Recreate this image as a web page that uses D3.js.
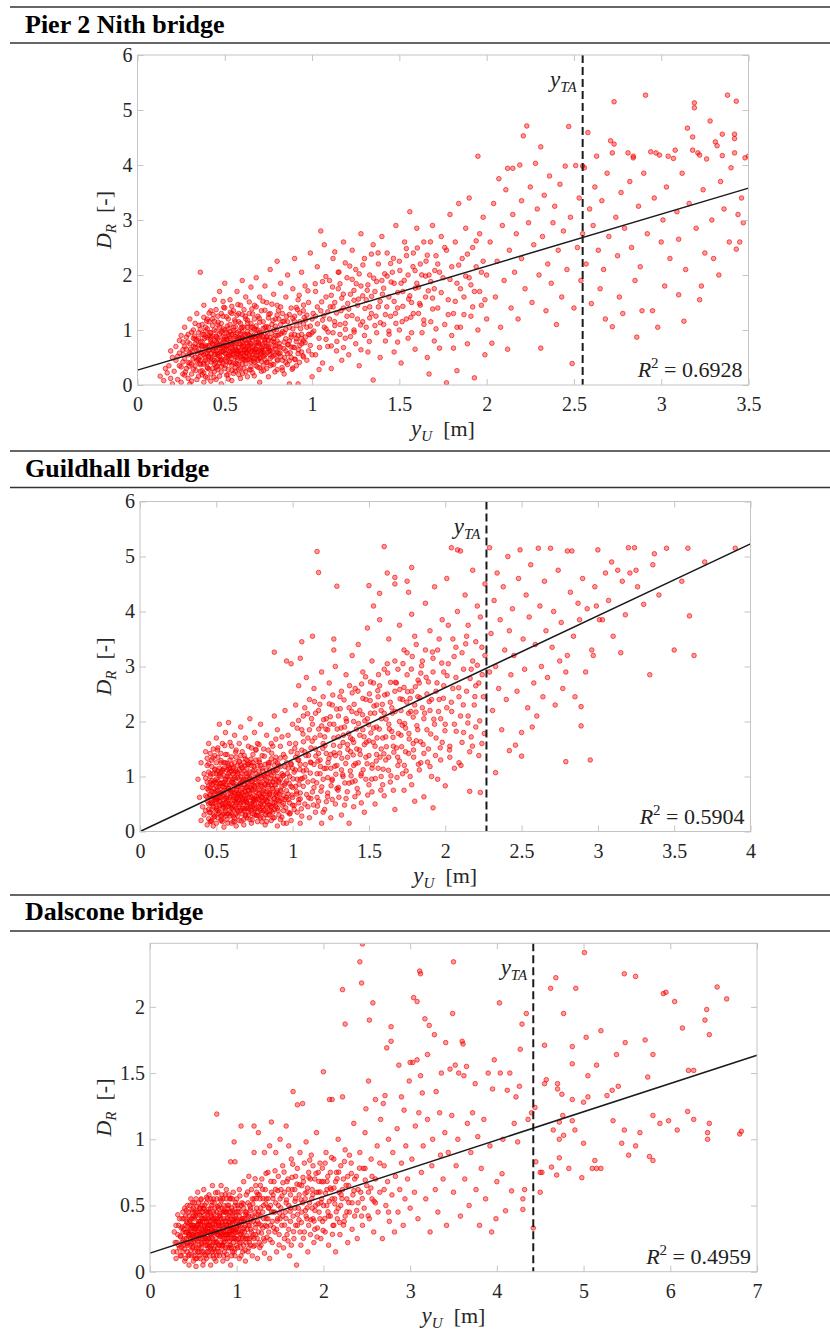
<!DOCTYPE html>
<html>
<head>
<meta charset="utf-8">
<script src="https://cdn.jsdelivr.net/npm/d3@7"></script>
<style>
  body { margin: 0; background: #fff; }
</style>
</head>
<body>
<svg id="fig" width="830" height="1333"></svg>
<script>
// ---- Pier 2 Nith bridge: [yU (m), DR (-)] ----
const nithPoints = [
  [.13,.16],[.15,.08],[.17,.22],[.18,.35],[.19,.12],[.2,.5],[.16,.3],[.2,.02],[.19,.62],
  [.21,.25],[.22,.45],[.22,.7],[.23,.1],[.24,.58],[.24,.35],[.25,.9],[.25,.05],[.26,.2],[.26,.78],[.27,.48],[.27,1.05],[.28,.3],[.28,.65],[.29,.12],[.29,.92],[.3,.4],[.3,.75],[.3,1.2],[.3,.02],
  [.31,.55],[.31,.2],[.32,.85],[.32,1.0],[.33,.35],[.33,.68],[.34,1.3],[.34,.1],[.35,.48],[.35,.95],[.36,2.05],[.36,.25],[.36,.78],[.37,1.1],[.37,.6],[.38,.4],[.38,1.45],[.38,.05],[.39,.88],[.39,.15],[.4,.7],[.4,1.2],[.4,.32],[.4,1.02],
  [.41,.52],[.41,.9],[.42,.2],[.42,1.35],[.43,.65],[.43,1.08],[.44,.38],[.44,.8],[.44,1.55],[.45,.1],[.45,.98],[.46,.55],[.46,1.25],[.46,.28],[.47,.72],[.47,1.7],[.48,.45],[.48,1.12],[.48,.02],[.49,.88],[.49,.6],[.5,1.4],[.5,.3],[.5,1.0],[.5,.78],[.5,1.85],
  [.51,.18],[.51,.65],[.52,1.2],[.52,.92],[.53,.42],[.53,1.55],[.54,.08],[.54,.75],[.55,1.05],[.55,.55],[.55,1.35],[.56,.25],[.56,.88],[.57,1.7],[.57,.62],[.58,1.15],[.58,.38],[.58,.98],[.59,1.45],[.59,.12],[.6,.7],[.6,1.28],[.6,.48],[.6,1.9],[.6,.85],
  [.61,1.05],[.61,.3],[.62,.58],[.62,1.6],[.63,.92],[.63,.15],[.64,1.3],[.64,.72],[.65,.42],[.65,1.12],[.65,1.78],[.66,.82],[.66,.22],[.67,1.45],[.67,.6],[.68,1.0],[.68,.35],[.68,1.95],[.69,.78],[.69,1.25],[.7,.5],[.7,1.6],[.7,.05],[.7,.95],
  [.71,1.35],[.71,.25],[.72,.7],[.72,1.15],[.73,.45],[.73,1.8],[.74,.88],[.74,1.5],[.75,.15],[.75,1.05],[.75,.6],[.76,1.3],[.76,2.1],[.77,.8],[.77,.38],[.78,1.65],[.78,1.0],[.79,.55],[.79,1.2],[.8,.9],[.8,1.45],[.8,.28],[.8,2.25],
  [.81,.7],[.82,1.1],[.82,1.85],[.83,.45],[.83,1.3],[.84,.95],[.84,.2],[.85,1.6],[.85,.62],[.86,1.15],[.86,2.0],[.87,.8],[.87,.02],[.88,1.4],[.88,.5],[.89,1.02],[.89,1.75],[.9,.68],[.9,2.3],[.9,1.25],
  [.91,.35],[.92,.9],[.92,1.55],[.92,.02],[.93,1.15],[.94,.6],[.94,2.05],[.95,1.35],[.95,.8],[.96,1.8],[.97,.45],[.97,1.05],[.98,1.5],[.99,.72],[.99,2.4],[1.0,1.2],[1.0,.95],[1.0,.15],
  [.36,.52],[.37,.92],[.38,.7],[.39,.45],[.41,1.15],[.42,.78],[.43,.3],[.44,1.0],[.45,.62],[.46,.85],[.47,.4],[.47,1.05],[.48,.68],[.49,1.25],[.51,.5],[.51,.95],[.52,.72],[.52,.28],[.53,.85],[.53,1.1],[.54,.6],[.54,1.3],[.55,.4],[.56,.75],[.56,1.15],[.57,.5],[.57,.95],[.58,.68],[.58,1.3],[.59,.85],[.59,.3],[.6,1.05],[.61,.62],[.61,.82],[.62,.45],[.62,1.2],[.63,.7],[.63,1.05],[.64,.55],[.64,.9],[.65,.28],[.65,.75],[.66,1.05],[.66,.5],[.67,.88],[.67,1.2],[.68,.65],[.69,.45],[.69,1.0],[.7,.75],[.71,.58],[.71,.95],[.72,.35],[.72,.88],[.73,1.05],[.73,.65],[.74,.3],[.75,.82],[.76,.55],[.77,1.1],[.78,.72],[.79,.9],[.8,.6],[.81,1.2],[.82,.52],[.4,.58],[.42,.95],[.44,.55],[.45,.78],[.35,.65],[.33,.5],[.32,.7],[.31,.38],[.29,.55],[.27,.7],[.26,.42],[.34,.82],[.39,1.05],[.43,1.2],[.48,1.3],
  [1.02,.55],[1.02,1.7],[1.03,2.15],[1.04,.85],[1.05,1.35],[1.05,2.8],[1.06,.4],[1.07,1.05],[1.07,2.55],[1.08,1.6],[1.09,.7],[1.1,1.9],[1.1,1.2],[1.11,.3],[1.12,2.3],[1.12,.95],[1.13,1.5],[1.14,.62],[1.15,1.75],[1.15,2.05],[1.16,1.1],[1.17,.45],[1.18,1.4],[1.18,2.6],[1.19,.85],[1.2,1.95],[1.2,1.25],
  [1.21,.55],[1.22,1.65],[1.23,2.45],[1.24,1.0],[1.25,.75],[1.25,2.1],[1.26,1.45],[1.27,.35],[1.28,1.8],[1.28,2.75],[1.29,1.15],[1.3,.9],[1.3,2.3],[1.31,1.55],[1.32,.6],[1.33,2.0],[1.34,1.3],[1.35,.09],[1.35,2.55],[1.36,1.7],[1.37,.95],[1.38,2.2],[1.38,1.42],[1.39,.5],[1.4,1.9],[1.4,2.7],
  [1.41,1.1],[1.42,.8],[1.43,2.4],[1.44,1.6],[1.45,1.25],[1.46,2.05],[1.47,.6],[1.47,1.85],[1.48,2.9],[1.49,1.4],[1.5,1.0],[1.5,2.25],[1.51,.4],[1.52,1.7],[1.53,2.6],[1.54,1.2],[1.55,.85],[1.55,2.0],[1.56,3.15],[1.57,1.5],[1.58,2.4],[1.59,.65],[1.6,1.85],[1.6,2.85],
  [1.61,1.3],[1.62,2.2],[1.63,.95],[1.64,2.6],[1.65,1.6],[1.66,.5],[1.67,.2],[1.67,2.0],[1.68,1.15],[1.69,2.9],[1.7,1.75],[1.7,.8],[1.71,2.35],[1.72,1.4],[1.73,.67],[1.74,2.7],[1.75,1.95],[1.76,1.1],[1.77,.04],[1.77,2.45],[1.78,1.55],[1.79,3.1],[1.8,2.15],[1.8,.9],
  [1.81,.67],[1.81,1.3],[1.82,2.6],[1.83,.26],[1.83,1.85],[1.84,3.3],[1.85,1.05],[1.86,2.3],[1.87,1.6],[1.88,2.85],[1.89,.75],[1.9,1.95],[1.9,3.4],[1.91,1.25],[1.92,2.5],[1.93,.13],[1.93,1.7],[1.94,2.15],[1.95,4.16],[1.95,1.0],[1.96,2.75],[1.97,1.45],[1.98,3.05],[1.99,.55],[2.0,2.0],[2.0,1.2],
  [2.02,2.6],[2.03,.76],[2.04,3.3],[2.05,1.6],[2.06,2.25],[2.07,3.75],[2.08,1.05],[2.09,2.9],[2.1,1.9],[2.11,3.55],[2.12,.65],[2.12,3.94],[2.13,2.45],[2.14,1.4],[2.15,3.1],[2.15,3.94],[2.16,2.05],[2.17,2.75],[2.18,1.2],[2.19,4.0],[2.2,3.35],[2.2,2.3],[2.21,4.53],[2.22,1.75],[2.23,4.71],[2.24,2.95],[2.25,3.6],[2.26,1.5],[2.27,2.55],[2.28,4.03],[2.29,3.2],[2.3,2.0],
  [2.31,.67],[2.31,4.33],[2.32,2.7],[2.33,3.45],[2.34,1.35],[2.35,2.2],[2.36,3.8],[2.37,1.85],[2.38,2.95],[2.39,3.25],[2.4,1.1],[2.41,2.45],[2.42,3.65],[2.43,1.6],[2.44,2.8],[2.45,3.98],[2.46,2.1],[2.47,4.7],[2.48,3.05],[2.49,.39],[2.5,1.4],[2.51,3.99],[2.52,2.5],[2.53,3.4],[2.55,3.98],[2.55,2.75],[2.54,1.9],
  [2.56,3.95],[2.57,2.2],[2.58,4.59],[2.59,3.2],[2.6,1.48],[2.61,2.9],[2.62,3.6],[2.63,4.16],[2.64,2.45],[2.65,1.75],[2.66,3.35],[2.67,2.1],[2.68,1.2],[2.69,3.85],[2.7,2.7],[2.71,4.44],[2.72,1.06],[2.72,4.22],[2.73,4.38],[2.73,5.15],[2.74,3.05],[2.75,2.35],[2.76,1.6],[2.77,3.5],[2.78,1.3],[2.79,2.85],
  [2.81,4.22],[2.82,3.7],[2.83,2.5],[2.84,4.16],[2.84,4.13],[2.85,1.9],[2.86,.87],[2.87,3.25],[2.88,2.15],[2.89,1.35],[2.9,3.85],[2.91,5.27],[2.92,2.75],[2.94,4.24],[2.95,1.35],[2.96,3.4],[2.97,4.22],[2.98,1.05],[2.99,4.18],[3.0,2.6],[3.01,3.0],[3.02,1.8],[3.03,3.6],[3.04,4.16],[3.05,2.3],[3.07,4.12],[3.08,4.27],[3.09,3.15],[3.1,1.64],[3.1,2.65],
  [3.12,3.85],[3.13,1.16],[3.14,2.1],[3.15,4.67],[3.16,3.3],[3.18,4.51],[3.18,4.27],[3.19,5.13],[3.19,5.04],[3.2,2.85],[3.21,4.22],[3.22,1.55],[3.22,4.18],[3.23,1.8],[3.24,3.55],[3.25,2.4],[3.26,4.11],[3.28,4.8],[3.29,3.0],[3.3,2.3],[3.31,4.42],[3.32,4.35],[3.33,2.0],[3.34,3.7],[3.35,4.17],[3.35,4.56],[3.36,3.2],[3.38,5.27],[3.39,2.6],[3.4,3.95],[3.42,4.56],[3.42,4.48],[3.42,4.22],[3.43,5.16],[3.43,2.47],[3.44,3.1],[3.45,2.6],[3.46,3.4],[3.48,4.13],[3.5,4.16],[3.47,2.95]
];
// denser core and middle band of the Nith cloud
const nithDense = [
  [.23,.52],[.24,.81],[.25,.33],[.26,.64],[.27,.18],[.28,.87],[.29,.41],[.3,.58],[.31,.96],[.31,.07],[.32,.29],[.33,1.12],[.33,.83],[.34,.44],[.35,.73],[.35,.16],[.36,1.01],[.36,.37],[.37,.26],[.37,.79],[.38,1.23],[.38,.55],[.39,.68],[.39,.98],[.4,.41],[.4,.13],[.41,.72],[.41,1.31],[.42,.57],[.42,.07],[.43,.89],[.43,.46],[.44,.24],[.44,1.16],[.45,.69],[.45,1.37],[.46,.47],[.46,1.09],[.47,.93],[.47,.16],[.48,.61],[.48,.34],[.49,1.02],[.49,1.52],[.5,.67],[.5,.46],[.51,.83],[.51,1.24],[.52,.52],[.52,.11],[.53,.97],[.53,.61],[.54,1.43],[.54,.36],[.55,.78],[.55,.21],[.56,1.06],[.56,.51],[.57,.86],[.57,1.27],[.58,.56],[.58,.19],[.59,.74],[.59,1.12],[.6,.38],[.6,.96],[.61,.53],[.61,1.37],[.62,.81],[.62,.24],[.63,1.18],[.63,.47],[.64,.66],[.64,1.51],[.65,.87],[.65,.33],[.66,1.29],[.66,.63],[.67,.41],[.67,1.02],[.68,.76],[.68,1.42],[.69,.54],[.69,.89],[.7,.31],[.7,1.14],[.71,.67],[.71,.43],[.72,1.03],[.72,.53],[.73,.78],[.73,1.36],[.74,.41],[.74,.97],[.75,.71],[.75,1.22],[.76,.48],[.76,.86],[.77,.63],[.77,1.47],[.78,.37],[.78,.84],[.79,1.07],[.79,.71],[.8,.46],[.8,1.27],[.81,.91],[.81,.57],[.82,.68],[.82,1.42],[.83,.97],[.83,.27],[.84,.78],[.84,1.16],[.85,.41],[.85,1.01],[.86,.73],[.86,.57],[.87,1.28],[.87,.44],[.88,.87],[.88,.69],[.89,.31],[.89,1.21],[.9,.92],[.9,.47],[.91,.79],[.91,1.41],[.92,.57],[.93,.72],[.93,1.31],[.94,.92],[.95,.51],[.95,1.11],[.96,.77],[.97,1.27],[.98,.62],[.98,.92],[.99,1.07],[1.0,.55],
  [.34,.62],[.35,.85],[.36,.44],[.37,.71],[.38,.92],[.38,.22],[.39,.57],[.4,.86],[.41,.63],[.41,.29],[.42,.87],[.42,.49],[.43,.74],[.44,.67],[.44,.45],[.45,.88],[.45,.32],[.46,.72],[.46,.58],[.47,.52],[.47,.81],[.48,.73],[.48,.96],[.49,.38],[.49,.78],[.5,.58],[.5,.87],[.51,.71],[.51,.43],[.52,.63],[.52,1.02],[.53,.53],[.53,.77],[.54,.69],[.54,.92],[.55,.62],[.55,.99],[.56,.68],[.56,.31],[.57,.61],[.57,.38],[.58,.87],[.58,.61],[.59,.52],[.59,.93],[.6,.77],[.6,.58],[.61,.7],[.61,.47],[.62,.9],[.62,.65],[.63,.58],[.63,.97],[.64,.77],[.64,.46],[.65,.61],[.65,1.05],[.66,.88],[.67,.64],[.67,.48],[.68,.92],[.68,.55],[.69,.72],[.7,.63],[.7,.87],[.72,.6],[.73,.83],[.74,.7],[.76,.63],[.78,.54],[.8,.8],
  [1.01,.98],[1.03,1.42],[1.04,.28],[1.06,1.18],[1.06,1.88],[1.08,.83],[1.09,1.33],[1.11,1.63],[1.11,.71],[1.13,1.08],[1.13,2.42],[1.14,1.31],[1.16,.92],[1.16,1.84],[1.17,1.58],[1.19,1.12],[1.19,2.22],[1.21,1.38],[1.22,.88],[1.23,1.92],[1.24,1.54],[1.26,1.2],[1.27,2.02],[1.28,.64],[1.29,1.62],[1.31,1.05],[1.32,1.82],[1.33,1.42],[1.34,2.38],[1.36,1.08],[1.37,1.88],[1.39,1.52],[1.41,1.76],[1.42,1.28],[1.44,.98],[1.45,2.21],[1.47,1.52],[1.48,1.12],[1.51,1.85],[1.52,1.43],[1.54,2.48],[1.56,1.62],[1.57,.95],[1.59,2.08],[1.61,1.78],[1.62,1.45],[1.64,1.18],[1.66,2.36],[1.68,1.88],[1.69,1.58],[1.71,1.02],[1.73,2.05],[1.74,1.68],[1.76,2.5],[1.78,1.28],[1.79,1.92],[1.82,1.52],[1.84,2.18],[1.85,1.75],[1.87,1.28],[1.89,2.38],[1.91,1.82],[1.92,1.42],[1.94,2.62],[1.96,1.7],[1.98,2.25],[1.99,1.55],[1.02,1.25],[1.08,1.02],[1.12,1.42],[1.18,.68],[1.24,1.72],[1.33,1.22],[1.43,1.98],[1.49,.78],[1.58,1.3],[1.65,1.98],[1.72,2.2],[1.83,1.05],[1.88,1.98],[1.97,2.05]
];
const nithCore = [
  [.262,.553],[.274,.236],[.287,.781],[.295,.342],[.305,.652],[.318,.475],[.326,.891],[.334,.263],[.343,.574],[.352,1.085],[.357,.392],[.366,.712],[.371,.185],[.384,.846],[.388,.497],[.396,1.162],[.402,.304],[.407,.637],[.416,.952],[.421,.418],[.428,.752],[.433,1.281],[.438,.143],[.446,.561],[.451,.873],[.456,.336],[.462,1.143],[.468,.674],[.473,.452],[.479,.238],[.484,.982],[.489,.612],[.494,1.412],[.498,.823],[.503,.361],[.508,.706],[.514,1.073],[.518,.187],[.523,.543],[.527,.881],[.532,1.324],[.537,.478],[.541,.264],[.546,.652],[.551,.946],[.556,1.183],[.561,.395],[.565,.772],[.571,.566],[.575,1.462],[.579,.283],[.584,.843],[.589,.634],[.593,1.036],[.598,.458],[.602,.208],[.607,.727],[.612,.923],[.617,1.252],[.621,.386],[.626,.604],[.631,1.123],[.636,.817],[.641,.276],[.645,.508],[.651,.962],[.655,1.382],[.66,.697],[.664,.437],[.669,.166],[.674,.843],[.679,1.073],[.684,.592],[.689,.325],[.693,.764],[.698,1.213],[.703,.488],[.708,.911],[.713,.637],[.718,1.524],[.723,.263],[.727,.818],[.732,.552],[.738,1.062],[.742,.415],[.747,.743],[.752,1.286],[.757,.617],[.762,.352],[.767,.938],[.771,.513],[.776,1.173],[.782,.782],[.787,.238],[.792,.647],[.797,1.006],[.802,.441],[.807,1.354],[.812,.756],[.817,.583],[.822,.935],[.828,.317],[.833,1.153],[.838,.662],[.843,.498],[.849,.842],[.854,1.246],[.859,.371],[.864,.738],[.87,1.048],[.875,.586],[.881,.913],[.886,.285],[.892,.687],[.898,1.163],[.904,.462],[.91,.842],[.916,1.372],[.922,.638],[.928,.412],[.934,1.024],[.941,.752],[.948,.533],[.955,1.228],[.963,.872],
  [.312,.615],[.331,.742],[.347,.458],[.363,.585],[.378,.376],[.391,.722],[.408,.504],[.419,.826],[.436,.622],[.447,.412],[.458,.753],[.471,.578],[.482,.476],[.492,.706],[.506,.564],[.516,.826],[.526,.413],[.535,.736],[.544,.562],[.553,.846],[.563,.643],[.572,.467],[.582,.753],[.591,.562],[.601,.853],[.611,.645],[.62,.506],[.629,.758],[.638,.632],[.648,.862],[.658,.542],[.667,.726],[.677,.648],[.686,.476],[.696,.838],[.706,.606],[.716,.742],[.728,.537],[.739,.872],[.751,.668]
];
const nithBand = [
  [.912,1.082],[.926,1.632],[.938,.842],[.951,1.452],[.963,1.182],[.976,1.712],[.988,.912],[1.006,1.302],[1.018,1.842],[1.031,1.112],[1.043,.682],[1.055,1.512],[1.067,1.262],[1.079,1.972],[1.092,.962],[1.104,1.422],[1.117,1.782],[1.129,1.152],[1.142,.792],[1.154,2.052],[1.166,1.352],[1.179,1.652],[1.191,1.012],[1.204,1.482],[1.216,2.162],[1.229,1.262],[1.241,.962],[1.253,1.842],[1.266,1.562],[1.278,1.092],[1.291,2.182],[1.303,1.392],[1.316,1.722],[1.328,.792],[1.341,1.612],[1.353,1.942],[1.366,1.252],[1.378,2.402],[1.391,1.132],[1.403,1.652],[1.416,2.022],[1.428,1.422],[1.441,.922],[1.453,1.872],[1.466,2.302],[1.478,1.302],[1.491,1.682],[1.503,2.082],[1.516,1.152],[1.528,1.902],[1.541,2.352],[1.553,1.562],[1.566,1.232],[1.578,2.152],[1.591,1.762],[1.603,2.492],[1.616,1.482],[1.628,2.002],[1.641,1.102],[1.653,2.252],[1.666,1.712],[1.678,2.602],[1.691,1.382],[1.703,2.082]
];

// ---- Guildhall bridge ----
const guildPoints = [
  [.38,.95],[.39,.62],[.4,.2],[.4,1.25],[.41,.45],[.41,.8],[.42,1.05],[.42,.3],[.43,.65],[.43,1.45],[.44,.12],[.44,.9],[.44,1.2],[.45,.5],[.45,.75],[.45,1.6],[.46,.35],[.46,1.0],[.46,.18],[.47,.6],[.47,1.3],[.47,.85],[.48,.1],[.48,1.5],[.48,.45],[.49,.7],[.49,1.12],[.49,.28],[.5,.95],[.5,1.7],[.5,.55],[.5,.15],
  [.51,1.35],[.51,.38],[.51,.8],[.52,.62],[.52,1.05],[.52,1.95],[.53,.2],[.53,.48],[.53,1.25],[.54,.88],[.54,1.6],[.54,.3],[.55,.68],[.55,1.15],[.55,.08],[.56,.42],[.56,.95],[.56,1.8],[.57,.55],[.57,1.4],[.57,.22],[.58,.78],[.58,1.05],[.58,1.98],[.59,.35],[.59,.62],[.59,1.3],[.6,.15],[.6,.9],[.6,1.55],[.6,.5],
  [.61,1.15],[.61,.72],[.61,.28],[.62,1.75],[.62,.45],[.62,.98],[.63,.1],[.63,.6],[.63,1.35],[.64,.82],[.64,1.05],[.64,.38],[.65,1.6],[.65,.2],[.65,.7],[.66,1.2],[.66,.52],[.66,1.9],[.67,.9],[.67,.32],[.67,1.45],[.68,.12],[.68,.65],[.68,1.1],[.69,.42],[.69,.8],[.69,1.7],[.7,1.3],[.7,.25],[.7,.58],[.7,1.0],
  [.71,.75],[.71,1.55],[.72,.4],[.72,.95],[.72,2.05],[.73,.15],[.73,1.2],[.73,.62],[.74,.85],[.74,1.4],[.75,.3],[.75,1.8],[.75,.5],[.76,1.05],[.76,.72],[.77,1.6],[.77,.18],[.78,.9],[.78,1.3],[.78,.45],[.79,.65],[.79,1.95],[.8,1.15],[.8,.35],[.8,.82],
  [.81,1.5],[.81,.55],[.82,.12],[.82,1.0],[.83,.72],[.83,1.75],[.84,.3],[.84,1.25],[.85,.9],[.85,.48],[.86,1.6],[.86,.2],[.87,1.1],[.87,.68],[.88,2.1],[.88,.4],[.89,.85],[.89,1.35],[.9,.1],[.9,1.0],[.9,1.85],[.9,.58],
  [.91,1.2],[.91,.3],[.92,.75],[.92,1.55],[.93,.48],[.93,1.05],[.94,.15],[.94,1.4],[.95,.88],[.95,2.2],[.96,.62],[.96,1.25],[.97,.35],[.97,1.75],[.98,1.0],[.98,.52],[.99,1.45],[.99,.2],[1.0,.8],[1.0,1.95],[1.0,1.15],
  [.46,.65],[.47,.4],[.48,.88],[.49,.52],[.5,1.25],[.51,.6],[.52,.35],[.52,.82],[.53,.7],[.53,1.0],[.54,.5],[.54,1.12],[.55,.32],[.55,.9],[.56,.6],[.56,1.25],[.57,.75],[.57,1.0],[.58,.45],[.58,1.2],[.59,.85],[.6,.65],[.6,1.1],[.61,.4],[.61,.95],[.62,.7],[.62,1.25],[.63,.32],[.63,.85],[.64,.55],[.64,1.2],[.65,.95],[.65,.45],[.66,.75],[.66,1.0],[.67,.55],[.67,1.15],[.68,.38],[.68,.85],[.69,.6],[.69,1.2],[.7,.8],[.7,.45],[.71,1.05],[.71,.3],[.72,.7],[.72,1.25],[.73,.5],[.73,.9],[.74,.6],[.74,1.1],[.75,.95],[.76,.42],[.76,1.3],[.77,.6],[.77,.85],[.78,1.1],[.79,.5],[.8,.7],[.8,.98],[.81,.38],[.82,.85],[.83,.55],[.84,1.05],[.85,.7],[.86,.45],[.87,.9],[.88,.6],[.89,1.1],[.9,.75],[.92,.95],[.94,.65],[.46,.8],[.5,.38],[.48,1.05],[.47,.2],[.51,1.1],[.55,.5],[.59,1.0],[.63,1.1],[.67,.7],[.75,.65],[.83,.35],
  [.88,3.26],[.96,3.1],[.99,3.05],[1.05,3.15],[1.06,3.45],[1.13,3.55],[1.16,5.09],[1.17,4.71],[1.27,3.5],[1.27,3.3],[1.29,4.46],[1.5,4.47],[1.53,4.1],[1.57,4.33],[1.6,5.18],[1.62,4.7],[1.67,4.62],[1.67,4.5],[1.75,4.55],[1.78,4.8],[1.76,4.35],
  [1.01,.4],[1.02,1.6],[1.02,2.3],[1.03,.95],[1.04,1.3],[1.04,2.65],[1.05,.15],[1.05,.7],[1.06,1.85],[1.07,1.1],[1.07,2.1],[1.08,.5],[1.08,1.45],[1.09,2.8],[1.1,.9],[1.1,1.7],[1.11,.25],[1.11,2.4],[1.12,1.25],[1.12,.6],[1.13,1.95],[1.14,.8],[1.14,2.6],[1.15,1.5],[1.15,.35],[1.16,1.05],[1.17,2.2],[1.17,.55],[1.18,1.75],[1.18,1.3],[1.19,.15],[1.19,2.9],[1.2,.95],[1.2,1.6],[1.2,2.45],
  [1.21,.4],[1.22,1.15],[1.22,2.05],[1.23,.7],[1.23,1.85],[1.24,2.7],[1.25,1.4],[1.25,.25],[1.26,.95],[1.26,2.3],[1.27,1.7],[1.28,.5],[1.28,3.0],[1.29,1.2],[1.3,2.1],[1.3,.8],[1.31,1.55],[1.32,2.55],[1.32,.3],[1.33,1.0],[1.34,1.9],[1.35,.6],[1.35,2.85],[1.36,1.35],[1.37,2.25],[1.37,.15],[1.38,1.7],[1.39,.9],[1.39,3.2],[1.4,2.0],[1.4,1.2],[1.4,.45],
  [1.41,2.6],[1.42,1.5],[1.43,.7],[1.43,3.4],[1.44,2.2],[1.45,1.05],[1.46,1.85],[1.46,2.9],[1.47,.35],[1.48,1.35],[1.48,2.4],[1.49,3.7],[1.5,.85],[1.5,1.65],[1.51,2.15],[1.52,1.15],[1.52,3.1],[1.53,2.7],[1.54,.5],[1.55,1.9],[1.55,1.4],[1.56,2.45],[1.57,3.85],[1.58,1.0],[1.58,2.2],[1.59,1.7],[1.6,2.95],[1.6,.65],
  [1.61,1.3],[1.62,2.5],[1.63,3.5],[1.63,1.95],[1.64,.9],[1.65,2.25],[1.66,1.55],[1.67,3.1],[1.67,.4],[1.68,2.7],[1.69,1.2],[1.7,2.0],[1.7,3.75],[1.71,1.75],[1.72,2.4],[1.73,.75],[1.73,3.3],[1.74,1.45],[1.75,2.85],[1.76,2.15],[1.77,1.0],[1.78,3.95],[1.78,2.55],[1.79,1.6],[1.8,2.3],[1.8,.55],
  [1.81,3.4],[1.82,1.85],[1.83,2.7],[1.84,1.25],[1.85,3.1],[1.86,.63],[1.86,2.05],[1.87,4.15],[1.88,2.5],[1.89,1.5],[1.9,3.65],[1.9,2.2],[1.91,1.0],[1.92,.43],[1.92,2.9],[1.93,4.45],[1.94,1.7],[1.95,3.3],[1.96,2.4],[1.97,1.3],[1.98,3.85],[1.99,2.65],[2.0,.83],[2.0,1.95],[2.01,4.6],[2.02,3.05],[2.03,1.55],[2.04,5.16],[2.04,2.35],
  [2.05,3.5],[2.06,1.15],[2.07,2.8],[2.08,5.12],[2.08,4.0],[2.09,1.25],[2.1,5.1],[2.1,2.1],[2.11,3.25],[2.12,1.8],[2.13,4.3],[2.14,2.55],[2.15,3.75],[2.16,.73],[2.16,1.45],[2.17,2.95],[2.18,4.75],[2.19,2.3],[2.2,3.45],[2.2,1.9],[2.21,4.1],[2.22,2.7],[2.23,.71],[2.23,3.9],[2.24,1.6],[2.25,2.45],[2.26,4.5],[2.26,3.2],
  [2.29,5.16],[2.29,2.9],[2.3,3.6],[2.31,2.2],[2.32,4.2],[2.33,1.07],[2.33,3.0],[2.34,4.7],[2.35,2.6],[2.36,3.85],[2.37,1.85],[2.38,4.45],[2.39,3.3],[2.4,2.4],[2.41,5.0],[2.42,1.47],[2.42,3.65],[2.43,2.85],[2.44,4.05],[2.45,3.2],[2.46,1.57],[2.47,2.55],[2.48,4.6],[2.49,5.12],[2.5,1.37],[2.5,1.8],[2.51,3.5],[2.52,2.95],[2.53,4.3],[2.54,2.25],[2.55,3.9],[2.56,4.85],[2.57,1.9],[2.58,2.7],[2.59,3.4],[2.6,2.1],[2.61,5.15],[2.62,4.1],[2.63,3.0],[2.64,2.45],[2.65,4.55],[2.66,3.65],[2.67,2.8],[2.69,5.15],[2.7,3.35],[2.71,4.0],[2.72,2.3],[2.74,4.75],[2.75,3.1],[2.76,3.8],[2.77,2.6],[2.79,1.27],[2.79,2.9],[2.8,5.1],[2.8,3.2],[2.82,4.35],[2.83,5.1],[2.84,3.55],[2.85,2.45],[2.87,4.15],[2.88,3.85],[2.89,2.27],[2.89,1.92],[2.9,4.6],[2.92,2.9],[2.93,4.05],[2.95,1.3],[2.96,3.3],[2.97,3.2],[2.98,4.45],[2.99,4.1],[3.0,5.12],[3.01,3.85],[3.03,3.85],[3.05,4.7],[3.07,4.2],[3.09,4.9],[3.1,3.55],[3.13,4.75],[3.15,3.25],[3.16,4.55],[3.18,3.94],[3.2,5.16],[3.21,4.7],[3.24,5.16],[3.25,4.75],[3.26,4.45],[3.3,4.13],[3.34,2.85],[3.36,4.85],[3.37,5.05],[3.4,4.3],[3.45,5.15],[3.5,3.3],[3.55,4.55],[3.59,5.15],[3.6,3.92],[3.63,3.2],[3.7,4.9],[3.9,5.15]
];
const guildDense = [
  [.43,.38],[.43,.97],[.44,.63],[.44,1.33],[.45,.23],[.45,1.08],[.46,.52],[.46,1.42],[.47,.73],[.47,1.18],[.48,.3],[.48,.62],[.49,.92],[.49,1.38],[.5,.45],[.5,1.05],[.5,.73],[.51,.25],[.51,1.52],[.52,.7],[.52,.47],[.53,.88],[.53,1.42],[.54,.18],[.54,.72],[.55,1.02],[.55,.58],[.56,.28],[.56,1.4],[.57,.85],[.57,.65],[.58,1.15],[.58,.32],[.59,.75],[.59,1.62],[.6,.42],[.6,1.22],[.61,.58],[.61,1.05],[.62,.18],[.62,.82],[.63,1.48],[.63,.52],[.64,.68],[.64,.28],[.65,1.12],[.65,.85],[.66,.38],[.66,1.38],[.67,.62],[.67,1.05],[.68,.22],[.68,.95],[.69,1.32],[.69,.55],[.7,.68],[.7,1.15],[.71,.42],[.71,.88],[.72,1.08],[.72,.22],[.73,.78],[.73,1.52],[.74,.48],[.74,.32],[.75,1.12],[.75,.82],[.76,.58],[.76,1.48],[.77,.35],[.77,.98],[.78,.68],[.78,1.58],[.79,.25],[.79,1.2],[.8,.55],[.8,1.38],[.81,.78],[.81,1.02],[.82,.4],[.82,1.22],[.83,.92],[.83,.18],[.84,.62],[.84,1.48],[.85,1.12],[.85,.3],[.86,.85],[.86,1.32],[.87,.52],[.87,1.55],[.88,.95],[.88,.25],[.89,.68],[.89,1.68],[.9,.42],[.9,1.25],[.91,.92],[.91,.55],[.92,1.18],[.92,.22],[.93,.82],[.93,1.72],[.94,.38],[.94,1.02],[.95,.58],[.95,1.35],[.96,.92],[.96,.15],[.97,.68],[.97,1.15],[.98,.32],[.98,1.6],[.99,.82],[.99,1.22],[1.0,.48],[1.0,.62],[1.01,1.08],[1.02,.82],[1.03,.35],[1.03,1.42],[1.04,.58],[1.05,1.22],[1.05,.95],[1.06,.28],
  [.48,.78],[.49,.58],[.5,.62],[.51,.92],[.52,.55],[.52,1.15],[.53,.62],[.53,.28],[.54,.82],[.54,.42],[.55,.75],[.55,1.25],[.56,.52],[.56,.85],[.57,.32],[.57,1.12],[.58,.58],[.58,.95],[.59,.48],[.59,1.15],[.6,.72],[.6,.32],[.61,.88],[.61,.18],[.62,.55],[.62,1.08],[.63,.75],[.63,.42],[.64,.98],[.64,.62],[.65,.58],[.65,1.28],[.66,.65],[.66,.88],[.67,.42],[.67,.78],[.68,.52],[.68,1.25],[.69,.72],[.69,.95],[.7,.52],[.7,.9],[.71,.62],[.71,1.22],[.72,.5],[.72,.8],[.73,.38],[.73,1.0],[.74,.75],[.74,1.25],[.75,.42],[.75,.58],[.76,.95],[.76,.3],[.77,.75],[.77,1.2],[.78,.58],[.78,.28],[.79,.85],[.79,1.02],[.8,.45],[.8,.62],[.81,.68],[.81,.25],[.82,.95],[.82,.58],[.83,.45],[.83,1.12],[.84,.85],[.84,.48],[.85,.6],[.85,1.25],[.86,.38],[.86,1.02],[.87,.78],[.88,.52],[.88,1.2],[.89,.45],[.89,.95],[.9,.65],[.5,.82],[.47,.5],[.46,.9],[.45,.4],[.44,.78],[.53,1.08],[.57,.45],[.63,.65],[.69,.3],[.74,.55],[.79,.38],[.84,.72],[.87,.35],[.91,.68],[.93,.6],
  [1.02,1.35],[1.03,1.88],[1.04,.52],[1.06,1.48],[1.07,.82],[1.08,2.25],[1.09,1.12],[1.1,.45],[1.11,1.85],[1.12,1.52],[1.13,.72],[1.14,1.22],[1.15,2.15],[1.16,.62],[1.17,1.42],[1.18,1.05],[1.19,1.92],[1.2,.35],[1.21,1.72],[1.22,1.42],[1.23,.98],[1.24,2.32],[1.25,1.15],[1.26,.58],[1.27,1.95],[1.28,1.38],[1.29,.78],[1.3,1.72],[1.31,2.45],[1.32,1.12],[1.33,1.62],[1.34,.48],[1.35,2.05],[1.36,1.58],[1.37,.88],[1.38,1.45],[1.39,2.52],[1.4,1.62],[1.41,.92],[1.42,2.15],[1.43,1.25],[1.44,1.75],[1.45,.52],[1.46,2.42],[1.47,1.58],[1.48,.95],[1.49,2.05],[1.5,1.38],[1.51,2.72],[1.52,.72],[1.53,1.88],[1.54,1.55],[1.55,2.3],[1.56,1.15],[1.57,2.65],[1.58,1.5],[1.59,.85],[1.6,2.15],[1.61,1.72],[1.62,3.05],[1.63,1.35],[1.64,2.35],[1.65,1.82],[1.66,.75],[1.67,2.55],[1.68,1.52],[1.69,2.95],[1.7,1.28],[1.71,2.2],[1.72,1.05],[1.73,2.62],[1.74,1.88],[1.75,3.25],[1.76,1.42],[1.77,2.42],[1.78,.85],[1.79,2.08],[1.8,3.55],[1.81,1.65],[1.82,2.45],[1.83,1.12],[1.84,2.88],[1.85,2.25],[1.86,1.42],[1.87,3.3],[1.88,1.85],[1.89,2.72],[1.9,1.18],[1.91,2.4],[1.92,3.15],[1.93,1.95],[1.94,2.55],[1.95,.95],[1.96,3.5],[1.97,2.05],[1.98,1.62],[1.99,2.9],[2.01,2.25],[2.02,3.75],[2.03,1.35],[2.05,2.6],[2.06,1.95],[2.07,3.35],[2.09,2.45],[2.11,1.62],[2.12,2.95],[2.14,3.55],[2.15,2.1],[2.17,1.72],[2.18,3.1],[2.2,2.65],[2.22,1.38],[2.24,3.35]
];
const guildCore = [
  [.442,.552],[.447,.826],[.451,1.236],[.455,.341],[.458,.668],[.463,1.048],[.466,.186],[.471,.925],[.474,.517],[.478,1.337],[.483,.718],[.486,.262],[.491,1.136],[.495,.606],[.498,.884],[.503,.413],[.507,1.482],[.511,.745],[.515,.327],[.518,1.016],[.523,.556],[.527,.875],[.531,1.288],[.535,.213],[.539,.657],[.543,1.108],[.547,.447],[.551,.806],[.555,1.563],[.559,.368],[.563,.946],[.567,.612],[.571,1.238],[.575,.153],[.579,.785],[.583,.512],[.587,1.087],[.591,.284],[.595,.693],[.599,1.356],[.603,.892],[.607,.437],[.611,1.172],[.615,.618],[.619,.243],[.623,.953],[.627,1.443],[.631,.527],[.635,.776],[.639,1.082],[.643,.356],[.647,.673],[.651,1.268],[.655,.486],[.659,.862],[.663,.192],[.667,1.163],[.671,.597],[.675,.936],[.679,.414],[.683,1.382],[.687,.726],[.691,.288],[.695,1.053],[.699,.538],[.703,.815],[.707,1.227],[.711,.356],[.715,.672],[.719,.978],[.723,.453],[.727,1.316],[.731,.756],[.735,.214],[.739,.908],[.743,.582],[.747,1.186],[.751,.396],[.755,.832],[.759,1.493],[.763,.638],[.767,.288],[.771,1.012],[.775,.506],[.779,.762],[.783,1.256],[.787,.412],[.791,.893],[.795,.624],[.799,.176],[.803,1.102],[.807,.735],[.811,.487],[.815,1.368],[.819,.866],[.823,.306],[.827,.628],[.831,1.046],[.835,.543],[.839,.818],[.843,1.212],[.847,.372],[.851,.682],[.855,.968],[.859,.452],[.863,1.423],[.867,.776],[.871,.248],[.875,1.066],[.879,.598],[.883,.846],[.887,1.283],[.891,.486],[.895,.712],[.9,1.122],[.905,.382],[.91,.896],[.915,.565],[.92,1.336],[.925,.726],[.93,.262],[.935,1.012],[.94,.512],[.945,.838],[.95,1.178],[.955,.432],[.96,.742],[.966,1.052],[.972,.583],[.978,.872],[.984,.335],[.99,1.236],[.996,.662],[1.003,.956],[1.01,.472],[1.018,1.118],[1.026,.725],[1.034,1.302],[1.042,.86],[1.05,.592],
  [1.062,.962],[1.071,1.632],[1.083,1.216],[1.092,.672],[1.104,1.384],[1.116,1.062],[1.124,2.052],[1.137,.482],[1.146,1.702],[1.158,.886],[1.166,1.278],[1.178,2.312],[1.186,.732],[1.198,1.512],[1.207,1.146],[1.218,1.862],[1.229,.634],[1.238,1.326],[1.247,2.086],[1.258,.928],[1.268,1.568],[1.277,1.186],[1.288,2.226],[1.297,.752],[1.308,1.426],[1.317,1.882],[1.328,1.034],[1.337,2.392],[1.348,1.236],[1.358,.722],[1.367,1.782],[1.378,1.102],[1.388,2.182],[1.397,1.392],[1.408,.632],[1.418,1.862],[1.428,2.552],[1.438,1.482],[1.448,1.012],[1.458,2.122],[1.468,1.722],[1.478,2.812],[1.488,1.232],[1.498,1.942],[1.508,2.382],[1.518,.952],[1.528,1.622],[1.538,2.152],[1.548,1.282],[1.558,2.562],[1.568,1.862],[1.578,.752],[1.588,2.312],[1.598,1.412],[1.612,2.042],[1.628,1.112],[1.642,2.712],[1.658,1.712],[1.672,2.182],[1.688,1.352],[1.702,2.582],[1.718,1.932],[1.732,1.202],[1.748,2.352],[1.762,1.782],[1.778,2.952],[1.792,1.482],[1.808,2.172],[1.822,2.752],[1.838,1.632]
];
const guildBand = [
  [1.014,1.512],[1.027,.682],[1.039,2.018],[1.048,1.126],[1.057,.412],[1.068,1.772],[1.079,.992],[1.087,1.382],[1.098,2.142],[1.106,.612],[1.117,1.262],[1.128,1.642],[1.134,.922],[1.143,2.362],[1.152,1.372],[1.163,.462],[1.171,1.862],[1.182,1.182],[1.191,.812],[1.203,2.032],[1.212,1.562],[1.221,.542],[1.232,1.252],[1.243,1.952],[1.252,.832],[1.263,2.482],[1.272,1.432],[1.283,1.042],[1.292,1.862],[1.303,.622],[1.312,2.232],[1.322,1.332],[1.333,1.752],[1.342,.882],[1.353,2.002],[1.362,1.492],[1.373,2.652],[1.383,1.012],[1.392,1.672],[1.403,2.312],[1.412,1.232],[1.423,.782],[1.432,1.962],[1.443,1.402],[1.452,2.682],[1.462,1.122],[1.473,2.012],[1.483,1.622],[1.492,.662],[1.503,2.502],[1.513,1.792],[1.522,1.212],[1.533,2.282],[1.542,.962],[1.553,1.702],[1.563,2.852],[1.573,1.352],[1.582,2.052],[1.593,1.132],[1.603,2.482],[1.614,1.542],[1.623,2.882],[1.634,1.862],[1.644,1.012],[1.653,2.152],[1.663,1.442],[1.674,2.712],[1.684,.982],[1.693,1.782],[1.704,2.412],[1.714,1.542],[1.723,3.052],[1.734,1.962],[1.744,1.102],[1.753,2.542],[1.764,1.682],[1.774,2.182],[1.784,3.182],[1.793,1.352],[1.804,2.632],[1.814,1.922],[1.824,1.222],[1.834,2.432],[1.845,3.012],[1.855,1.582],[1.865,2.152],[1.875,2.802],[1.884,1.262],[1.895,2.362],[1.905,1.772],[1.916,3.262],[1.925,2.042],[1.936,1.382],[1.946,2.702],[1.956,2.182],[1.967,1.522],[1.977,3.062],[1.988,2.422],[1.998,1.832],[2.012,2.832],[2.028,1.482],[2.042,2.182],[2.058,3.182],[2.072,1.822],[2.088,2.612],[2.103,1.202],[2.118,2.302],[2.134,3.412],[2.148,1.972],[2.163,2.782],[2.178,1.552],[2.194,2.452],[2.21,3.022],[2.226,2.012],[2.242,2.852],[2.256,1.782]
];

// ---- Dalscone bridge ----
const dalsPoints = [
  [.27,.15],[.28,.3],[.3,.1],[.31,.22],[.32,.43],[.33,.35],[.34,.18],[.35,.27],[.36,.12],[.37,.4],[.38,.3],[.39,.2],[.4,.48],[.4,.08],[.41,.35],[.42,.25],[.43,.15],[.43,.5],[.44,.3],[.45,.42],[.45,.05],[.46,.2],[.47,.35],[.47,.55],[.48,.12],[.48,.28],[.49,.45],[.5,.22],[.5,.35],[.5,.08],
  [.51,.52],[.52,.15],[.52,.3],[.53,.42],[.53,.04],[.54,.25],[.55,.6],[.55,.35],[.56,.18],[.57,.48],[.57,.28],[.58,.1],[.58,.38],[.59,.55],[.6,.22],[.6,.32],[.61,.45],[.61,.05],[.62,.15],[.62,.62],[.63,.28],[.64,.4],[.64,.2],[.65,.52],[.65,.1],[.66,.33],[.67,.25],[.67,.45],[.68,.15],[.68,.58],[.69,.35],[.7,.05],[.7,.28],[.7,.48],[.71,.2],[.72,.4],[.72,.65],[.73,.12],[.73,.3],[.74,.52],[.75,.22],[.75,.38],
  [.76,.08],[.77,.45],[.77,.3],[.78,.6],[.78,.18],[.79,.35],[.8,.5],[.8,.12],[.81,.27],[.81,.42],[.82,.65],[.83,.2],[.83,.35],[.84,.08],[.84,.55],[.85,.3],[.86,.45],[.86,.15],[.87,.38],[.88,.62],[.88,.25],[.89,.1],[.89,.5],[.9,.33],[.91,.2],[.91,.58],[.92,.42],[.93,.28],[.93,.05],[.94,.48],[.95,.15],[.95,.36],[.96,.6],[.97,.25],[.97,.45],[.98,.12],[.99,.38],[1.0,.55],[1.0,.2],
  [1.01,.3],[1.02,.48],[1.03,.1],[1.03,.62],[1.04,.35],[1.05,.22],[1.06,.52],[1.07,.4],[1.07,.15],[1.08,.68],[1.09,.3],[1.1,.45],[1.1,.08],[1.11,.58],[1.12,.25],[1.13,.38],[1.14,.18],[1.14,.72],[1.15,.5],[1.16,.32],[1.17,.62],[1.18,.12],[1.18,.42],[1.19,.28],[1.2,.55],[1.21,.2],[1.22,.65],[1.22,.36],[1.23,.48],[1.24,.1],[1.25,.3],
  [1.26,.58],[1.27,.42],[1.28,.2],[1.29,.7],[1.3,.33],[1.31,.5],[1.32,.14],[1.33,.62],[1.34,.4],[1.35,.26],[1.36,.75],[1.37,.48],[1.38,.1],[1.39,.35],[1.4,.6],[1.41,.22],[1.42,.45],[1.43,.68],[1.44,.3],[1.45,.52],[1.46,.15],[1.47,.4],[1.48,.72],[1.49,.28],[1.5,.55],
  [.46,.32],[.49,.25],[.51,.4],[.53,.32],[.54,.45],[.56,.38],[.57,.2],[.58,.25],[.59,.42],[.6,.4],[.62,.3],[.62,.48],[.63,.22],[.64,.32],[.65,.38],[.66,.2],[.66,.44],[.68,.3],[.69,.22],[.7,.38],[.71,.42],[.72,.25],[.73,.45],[.74,.18],[.74,.33],[.76,.4],[.77,.22],[.79,.28],[.8,.42],[.8,.2],[.82,.3],[.83,.48],[.85,.22],[.85,.4],[.87,.28],[.88,.45],[.9,.25],[.91,.38],[.92,.18],[.94,.32],[.96,.28],[.98,.42],[1.0,.32],[1.02,.25],[1.04,.45],[1.06,.3],[1.08,.38],[1.1,.25],[1.12,.42],[1.15,.25],[.42,.38],[.44,.22],[.5,.48],[.55,.15],[.6,.5],[.67,.35],[.75,.3],[.84,.38],[.93,.35],[1.05,.38],
  [.77,1.19],[.97,.98],[.93,.83],[.98,.83],[1.05,1.1],[1.2,1.1],[1.25,1.05],[1.38,.95],[1.32,.9],[1.45,.9],[1.5,1.0],[1.4,1.13],[1.6,.95],[1.2,.9],
  [1.52,.35],[1.53,.8],[1.54,.18],[1.55,.6],[1.56,.45],[1.57,1.1],[1.58,.28],[1.59,.7],[1.6,.5],[1.61,.12],[1.62,.38],[1.63,.85],[1.64,.62],[1.65,1.36],[1.66,.25],[1.67,.48],[1.68,.72],[1.69,.05],[1.7,.35],[1.7,1.26],[1.72,.58],[1.73,.9],[1.74,.2],[1.75,.45],[1.76,1.27],[1.77,.68],[1.78,.3],[1.79,.55],[1.8,.98],[1.81,.4],[1.82,.15],[1.83,.75],[1.84,.52],[1.85,.28],[1.86,.88],[1.87,.62],[1.88,.4],[1.89,.22],[1.9,.7],[1.91,.5],[1.92,1.05],[1.93,.33],[1.94,.6],[1.95,.45],[1.96,.82],[1.97,.25],[1.98,.55],[1.99,.38],[2.0,1.51],[2.0,.68],
  [2.02,.3],[2.03,.9],[2.04,.5],[2.05,.72],[2.06,.2],[2.07,1.3],[2.08,.42],[2.09,.62],[2.1,1.3],[2.11,.35],[2.12,.85],[2.13,.55],[2.14,.15],[2.15,.75],[2.16,.4],[2.17,1.0],[2.18,.6],[2.19,.28],[2.2,.5],[2.22,1.32],[2.22,2.13],[2.23,.7],[2.24,.38],[2.25,1.87],[2.25,.92],[2.27,.55],[2.28,.22],[2.29,.65],[2.3,.45],[2.32,.82],[2.33,.32],[2.34,.58],[2.35,1.12],[2.36,.42],[2.38,.72],[2.39,.25],[2.4,.52],[2.42,2.34],[2.42,.9],[2.43,.6],[2.44,2.18],[2.45,2.475],[2.45,.35],[2.46,.78],[2.47,.48],[2.48,1.05],[2.49,1.23],[2.5,.65],
  [2.52,1.44],[2.53,1.9],[2.53,.4],[2.55,.85],[2.56,.55],[2.57,2.03],[2.58,.3],[2.6,1.3],[2.6,.7],[2.62,.95],[2.63,.45],[2.65,.6],[2.66,1.15],[2.68,.25],[2.69,1.27],[2.7,.8],[2.71,1.33],[2.72,.5],[2.73,1.69],[2.74,.68],[2.75,1.0],[2.76,.38],[2.78,1.85],[2.78,1.74],[2.79,.58],[2.8,.9],[2.82,.3],[2.83,.72],[2.85,1.08],[2.86,.45],[2.87,1.56],[2.88,.62],[2.9,1.32],[2.9,.82],[2.92,.35],[2.93,1.22],[2.94,.55],[2.95,.95],[2.97,.7],[2.99,1.44],[3.0,1.58],[3.0,.48],
  [3.02,.85],[3.03,1.58],[3.04,2.07],[3.05,.6],[3.06,1.1],[3.08,2.04],[3.08,1.6],[3.09,.4],[3.1,1.2],[3.11,2.27],[3.12,1.48],[3.12,2.25],[3.13,.75],[3.14,1.35],[3.15,.95],[3.17,1.91],[3.18,.55],[3.2,1.64],[3.2,1.15],[3.22,1.86],[3.23,.3],[3.25,.8],[3.26,1.0],[3.28,1.79],[3.29,.62],[3.3,1.36],[3.32,.45],[3.34,1.2],[3.35,.88],[3.36,1.5],[3.38,.7],[3.4,1.05],[3.41,1.73],[3.42,.35],[3.44,.9],[3.46,1.53],[3.48,1.18],[3.49,1.95],[3.5,2.34],[3.5,.6],[3.52,1.56],[3.53,.8],[3.55,1.0],[3.56,1.5],[3.58,.42],[3.6,1.74],[3.61,1.72],[3.62,1.48],[3.63,.7],[3.65,1.55],[3.66,1.12],[3.68,.5],[3.7,.9],[3.72,1.2],[3.75,1.42],[3.76,.62],[3.78,1.02],[3.8,.35],[3.82,.78],[3.85,1.15],[3.87,.55],[3.9,1.5],[3.92,.95],[3.94,.3],[3.95,1.38],[3.97,1.6],[3.99,.4],[4.0,.68],[4.03,2.03],[4.04,1.5],[4.06,.74],[4.07,1.0],[4.1,.46],[4.12,1.37],[4.15,1.5],[4.17,.61],[4.2,1.12],[4.22,1.32],[4.24,.98],[4.26,1.4],[4.27,1.68],[4.29,1.87],[4.3,.55],[4.3,.47],[4.32,.62],[4.34,1.95],[4.36,1.15],[4.4,1.2],
  [4.42,.33],[4.44,1.24],[4.45,.83],[4.5,.75],[4.5,.6],[4.52,.75],[4.55,1.71],[4.55,1.42],[4.57,1.45],[4.62,2.14],[4.63,.79],[4.65,1.07],[4.68,2.22],[4.69,.73],[4.7,1.42],[4.7,1.38],[4.72,1.0],[4.72,.86],[4.72,1.13],[4.75,1.34],[4.76,1.18],[4.77,1.95],[4.77,1.03],[4.83,.78],[4.87,1.57],[4.87,1.7],[4.87,1.14],[4.87,1.3],[4.9,1.07],[4.91,2.14],[4.98,.71],[5.0,.97],[5.0,1.28],[5.01,2.41],[5.03,1.77],[5.05,1.48],[5.05,1.32],[5.1,.78],[5.13,.84],[5.15,1.56],[5.15,.78],[5.2,1.82],[5.2,.78],[5.27,1.33],[5.33,1.37],[5.34,1.14],[5.38,1.64],[5.4,1.4],[5.44,.97],[5.47,2.25],[5.47,1.07],[5.48,1.73],[5.52,.88],[5.6,2.23],[5.6,.95],[5.65,1.05],[5.71,1.75],[5.74,1.47],[5.76,.87],[5.8,1.64],[5.8,.84],[5.8,1.18],[5.88,1.12],[5.92,2.1],[5.95,2.11],[5.98,1.14],[6.05,2.04],[6.08,1.07],[6.14,1.84],[6.2,1.21],[6.21,1.52],[6.27,1.52],[6.27,1.15],[6.4,1.9],[6.42,1.98],[6.43,1.0],[6.43,1.05],[6.45,1.79],[6.45,1.12],[6.54,2.15],[6.65,2.06],[6.8,1.04],[6.82,1.06]
];
const dalsDense = [
  [.29,.22],[.3,.35],[.31,.15],[.32,.28],[.33,.2],[.34,.4],[.35,.12],[.36,.33],[.37,.22],[.38,.45],[.38,.15],[.39,.32],[.4,.25],[.41,.42],[.41,.1],[.42,.3],[.43,.37],[.43,.2],[.44,.45],[.44,.12],[.45,.28],[.46,.38],[.46,.5],[.47,.16],[.47,.25],[.48,.4],[.48,.33],[.49,.18],[.49,.52],[.5,.28],[.5,.42],[.51,.12],[.51,.33],[.52,.22],[.52,.45],[.53,.18],[.53,.55],[.54,.35],[.54,.1],[.55,.28],[.55,.45],[.56,.25],[.56,.52],[.57,.38],[.57,.12],[.58,.32],[.58,.48],[.59,.18],[.59,.3],[.6,.45],[.6,.15],[.61,.25],[.61,.38],[.62,.4],[.62,.08],[.63,.35],[.63,.5],[.64,.25],[.64,.12],[.65,.3],[.65,.45],[.66,.15],[.66,.55],[.67,.4],[.67,.18],[.68,.38],[.68,.25],[.69,.45],[.69,.12],[.7,.18],[.7,.55],[.71,.32],[.71,.5],[.72,.15],[.72,.33],[.73,.22],[.73,.55],[.74,.4],[.74,.1],[.75,.48],[.75,.15],[.76,.25],[.76,.35],[.77,.12],[.77,.55],[.78,.4],[.78,.28],[.79,.2],[.79,.48],[.8,.3],[.8,.35],[.81,.15],[.81,.55],[.82,.22],[.82,.4],[.83,.28],[.83,.58],[.84,.2],[.84,.45],[.85,.12],[.85,.5],[.86,.3],[.86,.25],[.87,.45],[.87,.18],[.88,.35],[.88,.55],[.89,.28],[.89,.4],[.9,.18],[.9,.48],[.91,.28],[.91,.45],[.92,.3],[.92,.55],[.93,.2],[.93,.45],[.94,.25],[.94,.12],[.95,.42],[.95,.55],[.96,.22],[.96,.38],[.97,.32],[.97,.15],[.98,.3],[.98,.5],[.99,.25],[.99,.45],[1.0,.4],[1.01,.18],[1.01,.5],[1.02,.35],[1.03,.22],[1.03,.42],[1.04,.28],[1.05,.5],[1.05,.12],[1.06,.4],[1.07,.25],[1.08,.48],[1.08,.2],[1.09,.4],[1.1,.35],[1.11,.22],[1.11,.45],[1.12,.32],[1.13,.52],[1.13,.15],[1.14,.42],[1.15,.35],[1.16,.48],[1.16,.2],[1.17,.3],[1.18,.55],[1.19,.38],[1.2,.25],[1.21,.45],[1.22,.28],[1.23,.6],[1.24,.38],[1.25,.45],[1.26,.22],[1.27,.55],[1.28,.35],[1.3,.45],[1.31,.25],[1.33,.35],[1.34,.55],[1.36,.4],[1.37,.3],[1.39,.5],[1.41,.38],[1.42,.58],[1.44,.45],[1.46,.32],[1.48,.5],[1.5,.4],
  [1.51,.62],[1.53,.42],[1.55,.25],[1.57,.52],[1.58,.68],[1.6,.32],[1.62,.58],[1.63,.2],[1.65,.42],[1.67,.62],[1.68,.35],[1.7,.78],[1.71,.48],[1.73,.3],[1.75,.65],[1.76,.52],[1.78,.82],[1.8,.42],[1.81,.6],[1.83,.35],[1.85,.7],[1.87,.48],[1.88,.8],[1.9,.32],[1.92,.6],[1.94,.75],[1.96,.4],[1.98,.68],[2.0,.5],[2.02,.82],[2.04,.62],[2.06,.42],[2.08,.75],[2.1,.55],[2.12,.35],[2.14,.68],[2.17,.48],[2.2,.8],[2.22,.62],[2.25,.42],[2.28,.72],[2.3,.88],[2.33,.52],[2.36,.7],[2.4,.62],[2.44,.42],[2.48,.78],[2.52,.6],[2.56,.72],[2.6,.52],[2.65,.82],[2.7,.62],[2.75,.45]
];
const dalsCore = [
  [.352,.262],[.362,.186],[.373,.338],[.381,.238],[.392,.402],[.401,.172],[.409,.296],[.418,.462],[.426,.214],[.434,.342],[.443,.268],[.451,.128],[.459,.392],[.467,.306],[.475,.216],[.484,.468],[.492,.352],[.5,.186],[.508,.272],[.516,.412],[.524,.098],[.532,.336],[.54,.492],[.548,.232],[.556,.362],[.564,.148],[.572,.428],[.58,.286],[.588,.542],[.596,.212],[.604,.352],[.612,.478],[.62,.262],[.628,.128],[.636,.408],[.644,.312],[.652,.562],[.66,.232],[.668,.356],[.676,.472],[.684,.192],[.692,.288],[.7,.412],[.708,.258],[.716,.526],[.724,.362],[.732,.168],[.74,.436],[.748,.292],[.756,.596],[.764,.226],[.772,.382],[.78,.492],[.788,.152],[.796,.318],[.804,.442],[.812,.262],[.82,.536],[.828,.372],[.836,.188],[.844,.322],[.852,.462],[.86,.226],[.868,.582],[.876,.352],[.884,.132],[.892,.412],[.9,.286],[.908,.502],[.916,.232],[.924,.372],[.932,.552],[.94,.182],[.948,.312],[.956,.462],[.964,.256],[.972,.396],[.98,.172],[.988,.522],[.996,.342],[1.006,.242],[1.016,.452],[1.026,.312],[1.036,.572],[1.046,.182],[1.056,.382],[1.066,.262],[1.076,.512],[1.086,.332],[1.096,.162],[1.106,.432],[1.116,.272],[1.126,.602],[1.136,.352],[1.146,.222],[1.156,.462],[1.166,.392],[1.176,.262],[1.186,.512],[1.196,.192],[1.206,.412],[1.216,.332],[1.226,.552],[1.236,.252],[1.246,.432],[1.256,.362],[1.266,.182],[1.276,.482],[1.286,.292],[1.298,.622],[1.31,.402],[1.322,.232],[1.334,.512],[1.346,.342],
  [.454,.282],[.476,.352],[.496,.262],[.518,.322],[.538,.282],[.562,.326],[.583,.362],[.602,.282],[.624,.342],[.646,.252],[.664,.302],[.686,.352],[.705,.322],[.728,.292],[.747,.362],[.768,.306],[.79,.376],[.81,.342],[.832,.262],[.854,.332],[.874,.282],[.896,.352],[.918,.312],[.94,.392],[.962,.332],[.984,.292],[1.004,.386],[1.028,.356],[1.05,.282],[1.072,.322],
  [1.362,.552],[1.384,.242],[1.402,.452],[1.426,.332],[1.448,.622],[1.466,.382],[1.488,.202],[1.508,.482],[1.532,.672],[1.552,.352],[1.574,.542],[1.592,.232],[1.616,.456],[1.638,.712],[1.656,.302],[1.678,.552],[1.702,.432],[1.722,.656],[1.746,.372],[1.768,.252],[1.788,.592],[1.812,.482],[1.834,.712],[1.856,.392],[1.878,.582],[1.902,.462],[1.926,.262],[1.948,.682],[1.972,.522],[1.996,.312],[2.024,.592],[2.052,.452],[2.078,.632],[2.104,.282],[2.132,.512],[2.158,.702],[2.186,.372],[2.214,.552],[2.242,.832],[2.27,.452]
];
const dalsBand = [
  [1.212,.702],[1.244,.582],[1.272,.652],[1.305,.552],[1.338,.742],[1.366,.482],[1.394,.682],[1.418,.552],[1.442,.762],[1.474,.612],[1.496,.442],[1.522,.572],[1.546,.752],[1.568,.402],[1.596,.622],[1.622,.482],[1.646,.812],[1.672,.532],[1.694,.662],[1.718,.392],[1.742,.542],[1.764,.712],[1.792,.462],[1.816,.632],[1.842,.842],[1.866,.552],[1.892,.382],[1.914,.742],[1.938,.512],[1.962,.602],[1.988,.782],[2.016,.402],[2.042,.682],[2.068,.532],[2.094,.862],[2.122,.632],[2.148,.452],[2.176,.752],[2.204,.582],[2.232,.352],[2.262,.652],[2.292,.522],[2.322,.742],[2.352,.612],[2.384,.462],[2.416,.782],[2.448,.552],[2.482,.692],[2.516,.422],[2.548,.632],[2.584,.532]
];

// axis ticks
const nithXTicks = [0, 0.5, 1, 1.5, 2, 2.5, 3, 3.5];
const nithYTicks = [0, 1, 2, 3, 4, 5, 6];
const guildXTicks = [0, 0.5, 1, 1.5, 2, 2.5, 3, 3.5, 4];
const guildYTicks = [0, 1, 2, 3, 4, 5, 6];
const dalsXTicks = [0, 1, 2, 3, 4, 5, 6, 7];
const dalsYTicks = [0, 0.5, 1, 1.5, 2];

// linear fits [yU, DR] at the axis ends, threshold depth y_TA, and R^2
const nithFit = [[0, 0.27], [3.5, 3.58]];
const guildFit = [[0, 0.0], [4, 5.23]];
const dalsFit = [[0, 0.14], [7, 1.635]];
const yTA = [2.55, 2.27, 4.42];
const rSquared = ["0.6928", "0.5904", "0.4959"];
const titles = ["Pier 2 Nith bridge", "Guildhall bridge", "Dalscone bridge"];

const FONT = "'Liberation Serif', 'Times New Roman', serif";
const svg = d3.select("#fig");

// Layout of each panel (pixels)
const panels = [
  { title: titles[0], points: nithPoints.concat(nithDense, nithCore, nithBand), fit: nithFit, yTA: yTA[0], r2: rSquared[0],
    xTicks: nithXTicks, yTicks: nithYTicks, xDomain: [0, 3.5], yDomain: [0, 6],
    ruleTop: 7, ruleBottom: 43, titleY: 33, left: 137.5, right: 748.5, top: 55, bottom: 385 },
  { title: titles[1], points: guildPoints.concat(guildDense, guildCore, guildBand), fit: guildFit, yTA: yTA[1], r2: rSquared[1],
    xTicks: guildXTicks, yTicks: guildYTicks, xDomain: [0, 4], yDomain: [0, 6],
    ruleTop: 451, ruleBottom: 487.5, titleY: 476.5, left: 140, right: 750.5, top: 501.5, bottom: 831.5 },
  { title: titles[2], points: dalsPoints.concat(dalsDense, dalsCore, dalsBand), fit: dalsFit, yTA: yTA[2], r2: rSquared[2],
    xTicks: dalsXTicks, yTicks: dalsYTicks, xDomain: [0, 7], yDomain: [0, 2.48],
    ruleTop: 895, ruleBottom: 931, titleY: 920, left: 150, right: 757, top: 943.3, bottom: 1271.7 }
];

function drawPanel(p, i) {
  // header rules and bold title
  [p.ruleTop, p.ruleBottom].forEach(yy => {
    svg.append("line")
      .attr("x1", 10).attr("x2", 830)
      .attr("y1", yy).attr("y2", yy)
      .attr("stroke", "#333").attr("stroke-width", 1.6);
  });
  svg.append("text")
    .attr("x", 25).attr("y", p.titleY)
    .attr("font-size", 26).attr("font-weight", "bold")
    .attr("fill", "#000")
    .text(p.title);

  const x = d3.scaleLinear().domain(p.xDomain).range([p.left, p.right]);
  const y = d3.scaleLinear().domain(p.yDomain).range([p.bottom, p.top]);
  const w = p.right - p.left, h = p.bottom - p.top;

  const clipId = "clip" + i;
  svg.append("clipPath").attr("id", clipId)
    .append("rect").attr("x", p.left).attr("y", p.top).attr("width", w).attr("height", h);

  // scatter
  svg.append("g").attr("clip-path", `url(#${clipId})`)
    .selectAll("circle")
    .data(p.points)
    .join("circle")
    .attr("cx", d => x(d[0]))
    .attr("cy", d => y(d[1]))
    .attr("r", 2.3)
    .attr("fill", "#ff0000").attr("fill-opacity", 0.4)
    .attr("stroke", "#f00000").attr("stroke-opacity", 0.7).attr("stroke-width", 0.9);

  // regression line
  svg.append("line")
    .attr("x1", x(p.fit[0][0])).attr("y1", y(p.fit[0][1]))
    .attr("x2", x(p.fit[1][0])).attr("y2", y(p.fit[1][1]))
    .attr("stroke", "#1a1a1a").attr("stroke-width", 1.5);

  // threshold y_TA
  svg.append("line")
    .attr("x1", x(p.yTA)).attr("x2", x(p.yTA))
    .attr("y1", p.top).attr("y2", p.bottom)
    .attr("stroke", "#1a1a1a").attr("stroke-width", 2)
    .attr("stroke-dasharray", "8,4");
  const ta = svg.append("text")
    .attr("x", x(p.yTA) - 6).attr("y", p.top + 32)
    .attr("text-anchor", "end").attr("fill", "#222");
  ta.append("tspan").attr("font-style", "italic").attr("font-size", 23).text("y");
  ta.append("tspan").attr("font-style", "italic").attr("font-size", 15).attr("dy", 5).text("TA");

  // box
  svg.append("rect")
    .attr("x", p.left).attr("y", p.top).attr("width", w).attr("height", h)
    .attr("fill", "none").attr("stroke", "#c4c4c4").attr("stroke-width", 1);

  // axes (ticks inside, MATLAB style)
  const styleAxis = g => {
    g.select(".domain").remove();
    g.selectAll(".tick line").attr("stroke", "#c4c4c4");
    g.selectAll(".tick text").attr("fill", "#262626").attr("font-size", 20);
  };
  svg.append("g").attr("transform", `translate(0,${p.bottom})`)
    .call(d3.axisBottom(x).tickValues(p.xTicks).tickSizeInner(-6).tickSizeOuter(0).tickPadding(12).tickFormat(d => String(d)))
    .call(styleAxis);
  svg.append("g").attr("transform", `translate(0,${p.top})`)
    .call(d3.axisTop(x).tickValues(p.xTicks).tickSizeInner(-6).tickSizeOuter(0).tickFormat(""))
    .call(styleAxis);
  svg.append("g").attr("transform", `translate(${p.left},0)`)
    .call(d3.axisLeft(y).tickValues(p.yTicks).tickSizeInner(-6).tickSizeOuter(0).tickPadding(5).tickFormat(d => String(d)))
    .call(styleAxis);
  svg.append("g").attr("transform", `translate(${p.right},0)`)
    .call(d3.axisRight(y).tickValues(p.yTicks).tickSizeInner(-6).tickSizeOuter(0).tickFormat(""))
    .call(styleAxis);

  // R^2 annotation
  const rt = svg.append("text")
    .attr("x", p.right - 6).attr("y", p.bottom - 8)
    .attr("text-anchor", "end").attr("fill", "#222").attr("font-size", 22);
  rt.append("tspan").attr("font-style", "italic").text("R");
  rt.append("tspan").attr("font-size", 15).attr("dy", -9).text("2");
  rt.append("tspan").attr("dy", 9).text(" = " + p.r2);

  // x label: y_U [m]
  const xl = svg.append("text")
    .attr("x", (p.left + p.right) / 2).attr("y", p.bottom + 51)
    .attr("text-anchor", "middle").attr("fill", "#262626").attr("font-size", 22);
  xl.append("tspan").attr("font-style", "italic").attr("font-size", 23).text("y");
  xl.append("tspan").attr("font-style", "italic").attr("font-size", 15).attr("dy", 5).text("U");
  xl.append("tspan").attr("dy", -5).text("\u2002[m]");

  // y label: D_R [-]
  const yl = svg.append("text")
    .attr("transform", `translate(111,${(p.top + p.bottom) / 2}) rotate(-90)`)
    .attr("text-anchor", "middle").attr("fill", "#262626").attr("font-size", 22);
  yl.append("tspan").attr("font-style", "italic").text("D");
  yl.append("tspan").attr("font-style", "italic").attr("font-size", 15).attr("dy", 5).text("R");
  yl.append("tspan").attr("dy", -5).text("\u2002[-]");
}

panels.forEach(drawPanel);

// serif everywhere (the axis helper sets sans-serif on its groups)
svg.selectAll("g").attr("font-family", null);
svg.selectAll("text").style("font-family", FONT);
</script>
</body>
</html>
